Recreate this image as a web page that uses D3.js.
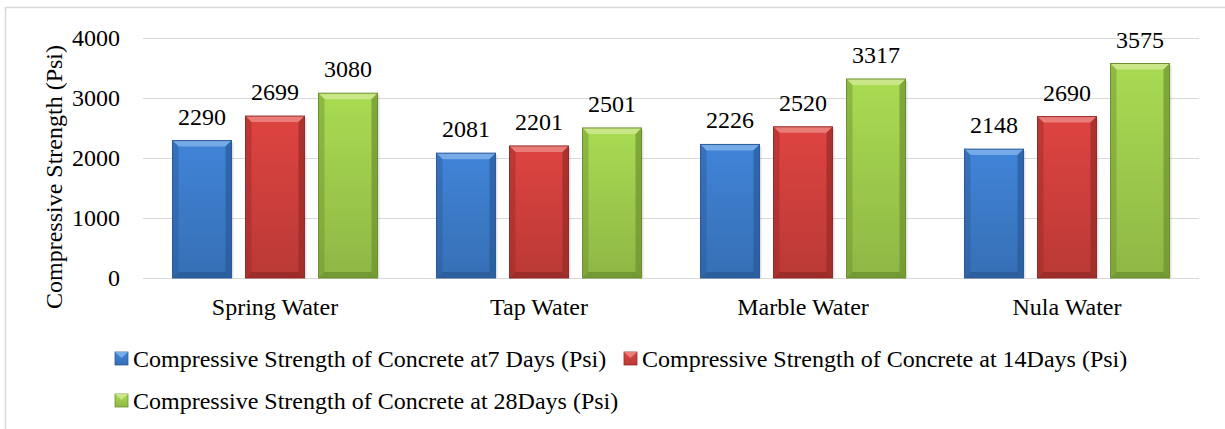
<!DOCTYPE html>
<html lang="en">
<head>
  <meta charset="UTF-8">
  <title>Compressive Strength</title>
  <script src="https://d3js.org/d3.v7.min.js"></script>
  <style>
    body { margin: 0; background: #fff; }
    svg text { font-family: "Liberation Serif", "Times New Roman", "DejaVu Serif", serif; fill: #000; }
    .grid line { stroke: #d9d9d9; stroke-width: 1.5; shape-rendering: crispEdges; }
    .grid path { display: none; }
  </style>
</head>
<body>
  <div id="app"></div>
  <script>
    // data
    var categories = ["Spring Water", "Tap Water", "Marble Water", "Nula Water"];
    var seriesNames = [
      "Compressive Strength of Concrete at7 Days (Psi)",
      "Compressive Strength of Concrete at 14Days (Psi)",
      "Compressive Strength of Concrete at 28Days (Psi)"
    ];
    var days7 = [2290, 2081, 2226, 2148];
    var days14 = [2699, 2201, 2520, 2690];
    var days28 = [3080, 2501, 3317, 3575];
    var yTicks = [0, 1000, 2000, 3000, 4000];

    var series = [days7, days14, days28];

    // colour sets: face, dark edge, light top
    var colors = [
      { face: "#3b79c6", edge: "#2a5a99", light: "#7fb0ea" },
      { face: "#cb3e3b", edge: "#962b28", light: "#ec8683" },
      { face: "#9bc84b", edge: "#6d9130", light: "#cfe98f" }
    ];

    var width = 1225, height = 429;
    var svg = d3.select("#app").append("svg")
      .attr("width", width)
      .attr("height", height)
      .attr("font-family", "'Liberation Serif', 'Times New Roman', serif");

    // frame
    svg.append("rect")
      .attr("x", 5.5).attr("y", 7.5)
      .attr("width", 1240).attr("height", 440)
      .attr("fill", "#fff")
      .attr("stroke", "#d9d9d9")
      .attr("stroke-width", 1.5);

    var plotLeft = 143, plotRight = 1199;
    var y = d3.scaleLinear().domain([0, 4000]).range([278, 38]);

    var x0 = d3.scaleBand()
      .domain(categories)
      .range([plotLeft, plotRight])
      .paddingInner(0.2235)
      .paddingOuter(0.2235 / 2);

    var x1 = d3.scaleBand()
      .domain(d3.range(series.length))
      .range([0, x0.bandwidth()])
      .paddingInner(0.192);

    // gradients
    var defs = svg.append("defs");
    colors.forEach(function (c, i) {
      var g = defs.append("linearGradient")
        .attr("id", "grad" + i)
        .attr("x1", "0").attr("x2", "0").attr("y1", "0").attr("y2", "1");
      g.append("stop").attr("offset", "0%").attr("stop-color", d3.color(c.face).brighter(0.25));
      g.append("stop").attr("offset", "100%").attr("stop-color", d3.color(c.face).darker(0.25));
    });

    // gridlines
    svg.append("g")
      .attr("class", "grid")
      .attr("transform", "translate(" + plotLeft + ",0)")
      .call(d3.axisLeft(y).tickValues(yTicks).tickSize(-(plotRight - plotLeft)).tickFormat(""));

    // y tick labels
    svg.append("g").selectAll("text")
      .data(yTicks)
      .join("text")
      .attr("x", 120)
      .attr("y", function (d) { return y(d) + 8; })
      .attr("text-anchor", "end")
      .attr("font-size", 24)
      .text(function (d) { return d; });

    // y title
    svg.append("text")
      .attr("transform", "translate(62,177) rotate(-90)")
      .attr("text-anchor", "middle")
      .attr("font-size", 24)
      .text("Compressive Strength (Psi)");

    // bars
    var bev = 6;
    series.forEach(function (vals, s) {
      var c = colors[s];
      var g = svg.append("g");
      vals.forEach(function (v, i) {
        var bx = x0(categories[i]) + x1(s);
        var bw = x1.bandwidth();
        var top = y(v), bot = y(0);
        // soft shadow
        g.append("rect")
          .attr("x", bx + 2).attr("y", top + 2)
          .attr("width", bw).attr("height", bot - top - 2)
          .attr("fill", "#000").attr("opacity", 0.12);
        g.append("rect")
          .attr("x", bx).attr("y", top)
          .attr("width", bw).attr("height", bot - top)
          .attr("fill", "url(#grad" + s + ")");
        // top bevel
        g.append("polygon")
          .attr("points", [[bx, top], [bx + bw, top], [bx + bw - bev, top + bev], [bx + bev, top + bev]].join(" "))
          .attr("fill", c.light).attr("opacity", 0.85);
        // left bevel
        g.append("polygon")
          .attr("points", [[bx, top], [bx + bev, top + bev], [bx + bev, bot - bev], [bx, bot]].join(" "))
          .attr("fill", c.edge).attr("opacity", 0.45);
        // right bevel
        g.append("polygon")
          .attr("points", [[bx + bw, top], [bx + bw - bev, top + bev], [bx + bw - bev, bot - bev], [bx + bw, bot]].join(" "))
          .attr("fill", c.edge).attr("opacity", 0.7);
        // bottom bevel
        g.append("polygon")
          .attr("points", [[bx, bot], [bx + bev, bot - bev], [bx + bw - bev, bot - bev], [bx + bw, bot]].join(" "))
          .attr("fill", c.edge).attr("opacity", 0.8);
        // outline
        g.append("rect")
          .attr("x", bx).attr("y", top)
          .attr("width", bw).attr("height", bot - top)
          .attr("fill", "none")
          .attr("stroke", c.edge).attr("stroke-width", 1);
        // value label
        g.append("text")
          .attr("x", bx + bw / 2)
          .attr("y", top - 16)
          .attr("text-anchor", "middle")
          .attr("font-size", 24)
          .text(v);
      });
    });

    // category labels
    svg.append("g").selectAll("text")
      .data(categories)
      .join("text")
      .attr("x", function (d) { return x0(d) + x0.bandwidth() / 2; })
      .attr("y", 315)
      .attr("text-anchor", "middle")
      .attr("font-size", 24)
      .text(function (d) { return d; });

    // legend
    var legendPos = [[115, 367], [624, 367], [115, 409]];
    seriesNames.forEach(function (name, s) {
      var lx = legendPos[s][0], ly = legendPos[s][1];
      var c = colors[s];
      svg.append("rect")
        .attr("x", lx).attr("y", ly - 15)
        .attr("width", 13).attr("height", 13)
        .attr("fill", "url(#grad" + s + ")")
        .attr("stroke", c.edge).attr("stroke-width", 0.8);
      svg.append("polygon")
        .attr("points", [[lx, ly - 15], [lx + 13, ly - 15], [lx + 6.5, ly - 9]].join(" "))
        .attr("fill", c.light).attr("opacity", 0.9);
      svg.append("text")
        .attr("x", lx + 18)
        .attr("y", ly)
        .attr("font-size", 24)
        .text(name);
    });
  </script>
</body>
</html>
